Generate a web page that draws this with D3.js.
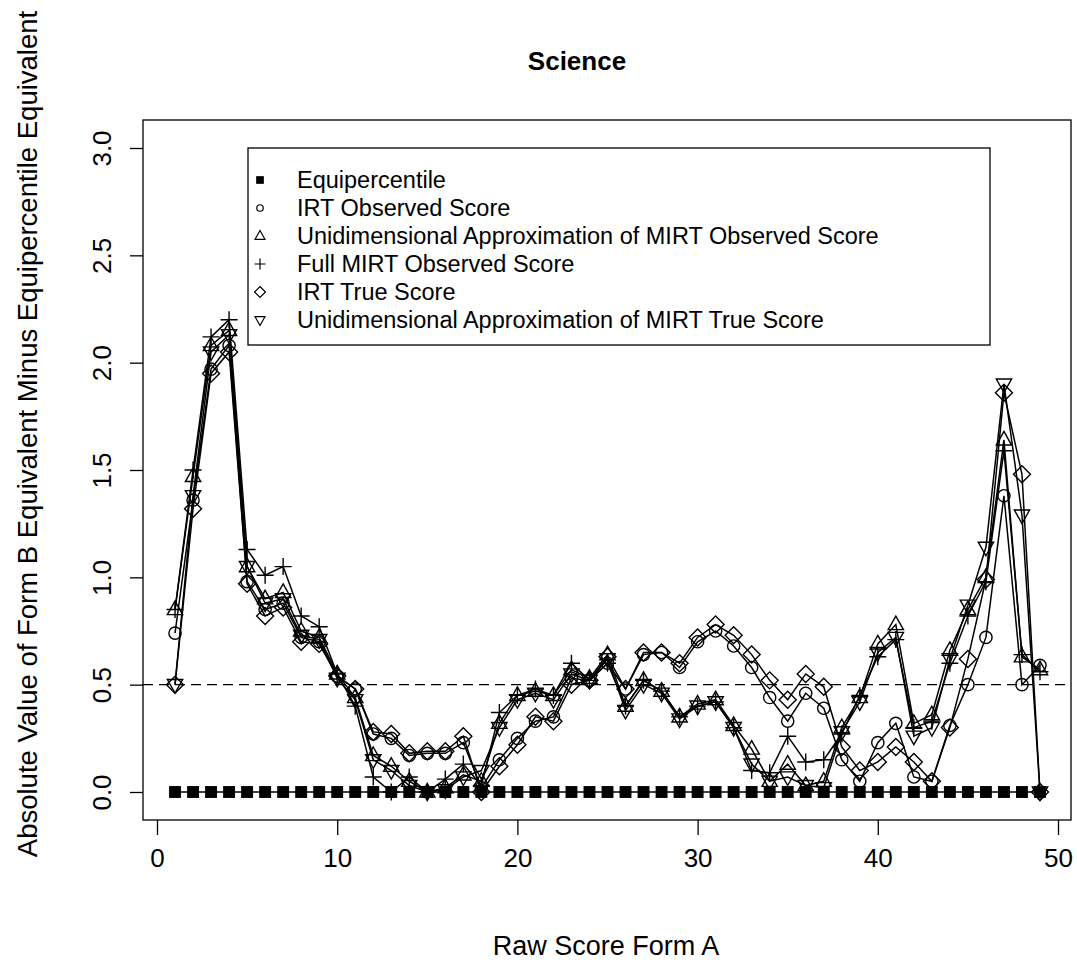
<!DOCTYPE html>
<html>
<head>
<meta charset="utf-8">
<script src="https://cdn.jsdelivr.net/npm/d3@7"></script>
<style>
body { margin: 0; background: #fff; }
text { font-family: Arial, "Liberation Sans", sans-serif; fill: #000; }
</style>
</head>
<body>
<svg id="chart" width="1077" height="962"></svg>
<script>
var raw_scores = [1,2,3,4,5,6,7,8,9,10,11,12,13,14,15,16,17,18,19,20,21,22,23,24,25,
	26,27,28,29,30,31,32,33,34,35,36,37,38,39,40,41,42,43,44,45,46,47,48,49];

var equipercentile = [0,0,0,0,0,0,0,0,0,0,0,0,0,0,0,0,0,0,0,0,0,0,0,0,0,
	0,0,0,0,0,0,0,0,0,0,0,0,0,0,0,0,0,0,0,0,0,0,0,0];

var irt_observed = [0.74,1.36,1.97,2.08,0.98,0.85,0.88,0.72,0.70,0.54,0.48,0.27,0.25,0.17,0.18,0.18,0.23,0.02,0.15,0.25,0.33,0.35,0.53,0.52,0.60,
	0.48,0.64,0.65,0.58,0.70,0.75,0.68,0.58,0.44,0.33,0.46,0.39,0.15,0.05,0.23,0.32,0.07,0.05,0.31,0.50,0.72,1.38,0.50,0.59];

var uni_mirt_observed = [0.85,1.47,2.08,2.15,1.05,0.90,0.93,0.75,0.72,0.55,0.44,0.17,0.12,0.05,0.00,0.02,0.08,0.05,0.32,0.45,0.47,0.45,0.57,0.53,0.64,
	0.40,0.52,0.47,0.35,0.41,0.43,0.31,0.20,0.05,0.13,0.03,0.05,0.30,0.44,0.69,0.78,0.32,0.36,0.66,0.85,1.00,1.64,0.63,0.57];

var full_mirt_observed = [0.85,1.50,2.12,2.20,1.13,1.01,1.05,0.82,0.77,0.55,0.40,0.07,0.00,0.07,0.00,0.06,0.13,0.03,0.37,0.45,0.48,0.45,0.60,0.52,0.60,
	0.40,0.52,0.47,0.35,0.40,0.42,0.30,0.10,0.09,0.26,0.14,0.15,0.27,0.45,0.63,0.71,0.30,0.33,0.60,0.82,0.98,1.59,0.64,0.56];

var irt_true = [0.50,1.32,1.95,2.05,0.97,0.82,0.86,0.70,0.69,0.54,0.48,0.28,0.27,0.18,0.19,0.19,0.26,0.00,0.12,0.22,0.35,0.33,0.50,0.52,0.63,
	0.48,0.65,0.65,0.60,0.72,0.78,0.73,0.64,0.52,0.43,0.55,0.49,0.21,0.10,0.14,0.21,0.14,0.05,0.30,0.62,0.99,1.86,1.48,0.00];

var uni_mirt_true = [0.50,1.38,2.05,2.13,1.05,0.88,0.90,0.73,0.71,0.53,0.43,0.15,0.10,0.03,0.00,0.01,0.07,0.10,0.30,0.43,0.46,0.43,0.55,0.52,0.62,
	0.38,0.50,0.46,0.34,0.40,0.42,0.30,0.13,0.05,0.07,0.03,0.02,0.28,0.42,0.65,0.72,0.26,0.30,0.62,0.87,1.14,1.90,1.29,0.00];

var legend_labels = ['Equipercentile', 'IRT Observed Score',
	'Unidimensional Approximation of MIRT Observed Score', 'Full MIRT Observed Score',
	'IRT True Score', 'Unidimensional Approximation of MIRT True Score'];
var point_shapes = ['square', 'circle', 'tri_up', 'plus', 'diamond', 'tri_down'];

var x_ticks = [0, 10, 20, 30, 40, 50];
var y_ticks = [0, 0.5, 1, 1.5, 2, 2.5, 3];
var reference_line = 0.5;

var svg = d3.select('#chart');

var box = { left: 143, right: 1071, top: 120, bottom: 820 };

var x = d3.scaleLinear().domain([0, 50]).range([157, 1058]);
var y = d3.scaleLinear().domain([0, 3]).range([792, 148]);

var all_series = [equipercentile, irt_observed, uni_mirt_observed, full_mirt_observed, irt_true, uni_mirt_true]
	.map(function(vals, i) {
		return {
			name: legend_labels[i],
			shape: point_shapes[i],
			points: raw_scores.map(function(s, j) { return { x: s, y: vals[j] }; })
		};
	});

function shape_path(shape, s)
{
	if(shape == 'tri_up')
		return 'M0,' + (-s) + 'L' + (s * 0.9) + ',' + (s * 0.6) + 'L' + (-s * 0.9) + ',' + (s * 0.6) + 'Z';
	if(shape == 'tri_down')
		return 'M0,' + s + 'L' + (s * 0.9) + ',' + (-s * 0.6) + 'L' + (-s * 0.9) + ',' + (-s * 0.6) + 'Z';
	if(shape == 'plus')
		return 'M' + (-s) + ',0H' + s + 'M0,' + (-s) + 'V' + s;
	if(shape == 'diamond')
		return 'M0,' + (-s) + 'L' + s + ',0L0,' + s + 'L' + (-s) + ',0Z';
	return '';
}

function draw_marker(g, shape, s, w)
{
	if(shape == 'square')
	{
		g.append('rect')
			.attr('x', -s * 0.7).attr('y', -s * 0.7)
			.attr('width', s * 1.4).attr('height', s * 1.4)
			.attr('fill', '#000');
	}
	else if(shape == 'circle')
	{
		g.append('circle')
			.attr('r', s * 0.72)
			.attr('fill', 'none').attr('stroke', '#000').attr('stroke-width', w);
	}
	else
	{
		g.append('path')
			.attr('d', shape_path(shape, s))
			.attr('fill', 'none').attr('stroke', '#000').attr('stroke-width', w);
	}
}

// y axis
var y_axis = svg.append('g')
	.attr('transform', 'translate(' + box.left + ',0)')
	.call(d3.axisLeft(y).tickValues(y_ticks).tickFormat(d3.format('.1f')).tickSize(13).tickSizeOuter(0));
y_axis.select('.domain').remove();
y_axis.selectAll('line').attr('stroke', '#000').attr('stroke-width', 1.3);
y_axis.selectAll('text')
	.attr('transform', 'rotate(-90)')
	.attr('x', 0).attr('y', -32).attr('dy', 0)
	.style('text-anchor', 'middle')
	.style('font-size', '26px')
	.style('font-family', 'Arial, "Liberation Sans", sans-serif');

// x axis
var x_axis = svg.append('g')
	.attr('transform', 'translate(0,' + box.bottom + ')')
	.call(d3.axisBottom(x).tickValues(x_ticks).tickSize(15).tickSizeOuter(0));
x_axis.select('.domain').remove();
x_axis.selectAll('line').attr('stroke', '#000').attr('stroke-width', 1.3);
x_axis.selectAll('text')
	.attr('y', 47).attr('dy', 0)
	.style('font-size', '26px')
	.style('font-family', 'Arial, "Liberation Sans", sans-serif');

// box
svg.append('rect')
	.attr('x', box.left).attr('y', box.top)
	.attr('width', box.right - box.left).attr('height', box.bottom - box.top)
	.attr('fill', 'none').attr('stroke', '#000').attr('stroke-width', 1.3);

// dashed reference line
svg.append('line')
	.attr('x1', box.left).attr('x2', box.right)
	.attr('y1', y(reference_line)).attr('y2', y(reference_line))
	.attr('stroke', '#000').attr('stroke-width', 1.3)
	.attr('stroke-dasharray', '10,6');

// series lines and points
var line = d3.line().x(function(d) { return x(d.x); }).y(function(d) { return y(d.y); });

all_series.forEach(function(s) {
	svg.append('path')
		.datum(s.points)
		.attr('d', line)
		.attr('fill', 'none')
		.attr('stroke', '#000')
		.attr('stroke-width', 1.5);

	svg.append('g').selectAll('g')
		.data(s.points)
		.enter()
		.append('g')
			.attr('transform', function(d) { return 'translate(' + x(d.x) + ',' + y(d.y) + ')'; })
			.each(function() { draw_marker(d3.select(this), s.shape, 8.5, 1.4); });
});

// legend
svg.append('rect')
	.attr('x', 248).attr('y', 148)
	.attr('width', 742).attr('height', 197)
	.attr('fill', '#fff').attr('stroke', '#000').attr('stroke-width', 1.3);

var legend = svg.append('g').attr('transform', 'translate(260,180)');
all_series.forEach(function(s, i) {
	var row = legend.append('g').attr('transform', 'translate(0,' + (i * 28) + ')');
	var mark = row.append('g');
	draw_marker(mark, s.shape, s.shape == 'circle' ? 4.5 : 5.5, 1.2);
	row.append('text')
		.attr('x', 37).attr('y', 8)
		.style('font-size', '23.5px')
		.text(s.name);
});

// titles
svg.append('text')
	.attr('x', 577).attr('y', 70)
	.style('text-anchor', 'middle')
	.style('font-size', '26px')
	.style('font-weight', 'bold')
	.text('Science');

svg.append('text')
	.attr('x', 606).attr('y', 955)
	.style('text-anchor', 'middle')
	.style('font-size', '27px')
	.text('Raw Score Form A');

svg.append('text')
	.attr('transform', 'translate(37,434) rotate(-90)')
	.style('text-anchor', 'middle')
	.style('font-size', '27.5px')
	.text('Absolute Value of Form B Equivalent Minus Equipercentile Equivalent');
</script>
</body>
</html>
